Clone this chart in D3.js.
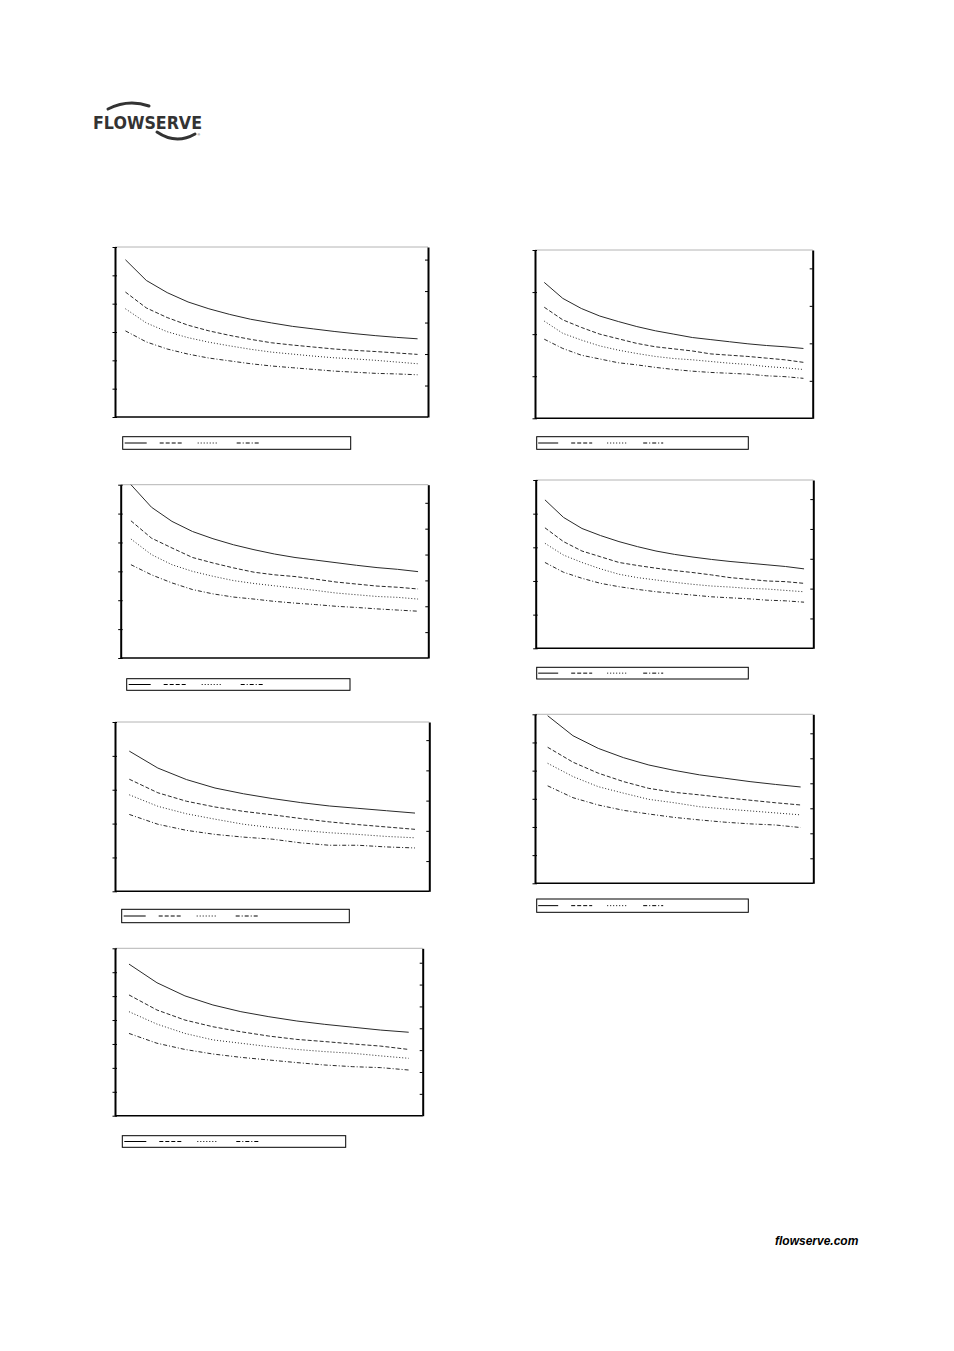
<!DOCTYPE html>
<html><head><meta charset="utf-8">
<script src="https://cdn.jsdelivr.net/npm/d3@7"></script>
<style>body{margin:0;background:#fff}svg{display:block}</style>
</head><body>
<svg id="page" width="954" height="1351"></svg>
<script>
// ---------- data ----------
const points15 = [1,2,3,4,5,6,7,8,9,10,11,12,13,14,15];
const points11 = [1,2,3,4,5,6,7,8,9,10,11];

const seriesL1 = [
  [55.5,48.2,43.9,40.6,38.2,36.2,34.5,33.2,32.0,31.1,30.2,29.4,28.7,28.1,27.6],
  [44.1,38.5,35.1,32.4,30.4,28.8,27.4,26.2,25.4,24.7,24.0,23.5,23.1,22.6,22.1],
  [38.2,33.2,30.1,28.0,26.4,25.1,23.9,22.9,22.2,21.5,20.9,20.5,20.0,19.4,18.8],
  [30.4,26.5,24.0,22.2,20.8,19.8,18.8,18.0,17.4,16.8,16.2,15.8,15.4,15.2,14.9]
];
const seriesR1 = [
  [32.3,28.5,26.1,24.3,23.0,21.8,20.8,20.0,19.2,18.7,18.2,17.7,17.3,17.0,16.6],
  [26.4,23.4,21.6,20.0,18.9,17.8,17.0,16.5,16.0,15.3,15.0,14.7,14.3,13.9,13.3],
  [23.1,20.2,18.6,17.2,16.2,15.4,14.7,14.2,13.9,13.5,13.1,12.8,12.3,12.0,11.6],
  [18.8,16.6,15.0,14.1,13.2,12.7,12.1,11.6,11.2,10.9,10.7,10.5,10.1,9.9,9.5]
];
const seriesL2 = [
  [60.0,52.2,47.3,43.8,41.3,39.2,37.5,36.0,34.8,33.9,33.0,32.1,31.3,30.7,29.9],
  [47.5,41.5,38.1,34.8,32.9,31.2,29.7,28.8,28.2,27.3,26.3,25.6,24.9,24.5,23.9],
  [41.2,35.8,32.3,30.0,28.3,26.8,25.8,25.0,24.2,23.4,22.5,21.9,21.3,21.0,20.4],
  [32.3,28.8,26.0,23.7,22.2,21.1,20.4,19.6,19.0,18.5,17.9,17.5,17.0,16.6,16.2]
];
const seriesR2 = [
  [44.1,38.9,35.6,33.5,31.7,30.2,28.9,27.9,27.1,26.4,25.8,25.3,24.8,24.3,23.6],
  [35.8,31.7,28.9,27.2,25.5,24.6,23.8,23.1,22.5,21.8,21.0,20.5,20.0,19.8,19.3],
  [31.2,27.7,25.5,23.6,22.0,21.0,20.3,19.6,19.0,18.5,18.2,17.8,17.6,17.2,16.8],
  [25.5,22.6,20.8,19.3,18.3,17.5,16.8,16.3,15.8,15.3,15.0,14.7,14.3,14.1,13.7]
];
const seriesL3 = [
  [41.4,36.4,33.0,30.5,28.8,27.4,26.2,25.2,24.5,23.8,23.1],
  [33.1,29.1,26.6,24.9,23.6,22.6,21.5,20.5,19.7,19.0,18.3],
  [28.5,25.1,22.9,21.3,19.8,18.8,18.0,17.3,16.8,16.2,15.8],
  [22.7,19.8,18.0,16.8,16.0,15.4,14.3,13.6,13.6,13.1,12.8]
];
const seriesR3 = [
  [59.5,52.4,47.9,44.6,42.0,40.1,38.5,37.3,36.1,35.1,34.2],
  [48.3,43.0,39.1,36.1,33.7,32.3,31.4,30.4,29.5,28.6,27.8],
  [42.6,37.9,34.3,32.0,29.8,28.6,27.2,26.4,25.7,25.0,24.3],
  [34.6,30.4,27.8,25.9,24.6,23.4,22.5,21.7,21.1,20.7,19.8]
];
const seriesL4 = [
  [63.4,55.6,50.1,46.3,43.5,41.4,39.6,38.2,37.0,35.8,34.9],
  [50.5,44.2,40.0,37.2,35.1,33.3,31.9,31.0,30.0,29.1,27.7],
  [43.5,38.3,34.4,31.7,30.3,28.9,27.7,26.8,26.1,25.0,24.0],
  [34.4,30.3,27.7,25.8,24.4,23.3,22.2,21.2,20.5,20.1,19.1]
];

const leftTicksL1 = [0,10,20,30,40,50,60];
const leftTicksR1 = [0,10,20,30,40];
const leftTicksL2 = [0,10,20,30,40,50,60];
const leftTicksR2 = [0,10,20,30,40,50];
const leftTicksL3 = [0,10,20,30,40,50];
const leftTicksR3 = [0,10,20,30,40,50,60];
const leftTicksL4 = [0,10,20,30,40,50,60,70];

const rightTicksL1 = [1,2,3,4,5];
const rightTicksR1 = [1,2,3,4];
const rightTicksL2 = [1,2,3,4,5,6];
const rightTicksR2 = [1,2,3,4,5];
const rightTicksL3 = [1,2,3,4,5];
const rightTicksR3 = [1,2,3,4,5,6];
const rightTicksL4 = [1,2,3,4,5,6,7];

const rightMax = [5.4, 4.49, 6.7, 5.64, 5.6, 6.76, 7.66];

// ---------- layout ----------
const layouts = [
  {l:115,  r:428,   t:247,   b:417,   lg:[122.7,350.7,436.7,449.3], side:"L"},
  {l:535,  r:812.7, t:250,   b:418.3, lg:[536.7,748.3,436.7,449.3], side:"R"},
  {l:120.7,r:428.3, t:484.7, b:658,   lg:[126.7,350,678.7,690.3],   side:"L"},
  {l:535.7,r:813.3, t:480,   b:648.3, lg:[536.7,748.3,667.3,679],   side:"R"},
  {l:115,  r:429.3, t:722,   b:891.3, lg:[121.7,349.3,909.3,922.7], side:"L"},
  {l:535,  r:813.3, t:714.3, b:883.3, lg:[536.7,748.3,899,912.3],   side:"R"},
  {l:115,  r:422.7, t:948.3, b:1115.7,lg:[122.3,345.7,1135.7,1147.3],side:"L"}
];
const chartSeries = [seriesL1,seriesR1,seriesL2,seriesR2,seriesL3,seriesR3,seriesL4];
const chartPoints = [points15,points15,points15,points15,points11,points11,points11];
const chartLeftTicks = [leftTicksL1,leftTicksR1,leftTicksL2,leftTicksR2,leftTicksL3,leftTicksR3,leftTicksL4];
const chartRightTicks = [rightTicksL1,rightTicksR1,rightTicksL2,rightTicksR2,rightTicksL3,rightTicksR3,rightTicksL4];

const dashes = [null, "4,2", "1,2", "4,2,1,2"];
const legendOffsets = {
  L: [[2,24],[37,59],[75,96],[114,136]],
  R: [[1.5,21.5],[34.5,55.5],[70.5,90.5],[106.5,126.5]]
};

const svg = d3.select("#page");

// ---------- logo ----------
const logo = svg.append("g");
logo.append("path").attr("d","M108,109 Q128,99 149,106")
  .attr("fill","none").attr("stroke","#333").attr("stroke-width",3).attr("stroke-linecap","round");
logo.append("path").attr("d","M157,132 Q176,145 195,134")
  .attr("fill","none").attr("stroke","#333").attr("stroke-width",3).attr("stroke-linecap","round");
logo.append("text").attr("x",93).attr("y",128.5)
  .attr("font-family","DejaVu Sans, sans-serif").attr("font-weight","bold")
  .attr("font-size",17).attr("fill","#333").attr("textLength",109).attr("lengthAdjust","spacingAndGlyphs")
  .text("FLOWSERVE");
logo.append("text").attr("x",197.5).attr("y",136).attr("font-size",3.5)
  .attr("font-family","Liberation Sans, Arial, sans-serif").attr("fill","#333").text("®");

// ---------- footer ----------
svg.append("text").attr("x",775).attr("y",1244.5)
  .attr("font-family","Liberation Sans, Arial, sans-serif").attr("font-weight","bold")
  .attr("font-style","italic").attr("font-size",12).attr("fill","#000")
  .text("flowserve.com");

// ---------- charts ----------
layouts.forEach((L, i) => {
  const g = svg.append("g");
  const pts = chartPoints[i];
  const leftTicks = chartLeftTicks[i];
  const x = d3.scalePoint().domain(pts).range([L.l, L.r]).padding(0.5);
  const y = d3.scaleLinear().domain([0, d3.max(leftTicks)]).range([L.b, L.t]);
  const y2 = d3.scaleLinear().domain([0, rightMax[i]]).range([L.b, L.t]);

  // frame
  g.append("line").attr("x1",L.l).attr("x2",L.r).attr("y1",L.t).attr("y2",L.t)
    .attr("stroke","#b4b4b4").attr("stroke-width",1);
  g.append("line").attr("x1",L.l).attr("x2",L.r).attr("y1",L.b).attr("y2",L.b)
    .attr("stroke","#000").attr("stroke-width",1.5);

  // left axis
  const la = g.append("g").attr("transform",`translate(${L.l},0)`)
    .call(d3.axisLeft(y).tickValues(leftTicks).tickFormat("").tickSizeInner(2.5).tickSizeOuter(0));
  la.select(".domain").attr("stroke","#000").attr("stroke-width",2);
  la.selectAll(".tick line").attr("x1",2).attr("stroke","#000").attr("stroke-width",1);

  // right axis (ticks inward)
  const ra = g.append("g").attr("transform",`translate(${L.r},0)`)
    .call(d3.axisLeft(y2).tickValues(chartRightTicks[i]).tickFormat("").tickSizeInner(3).tickSizeOuter(0));
  ra.select(".domain").attr("stroke","#000").attr("stroke-width",2);
  ra.selectAll(".tick line").attr("stroke","#000").attr("stroke-width",1);

  // lines
  const line = d3.line().x((d,j) => x(pts[j])).y(d => y(d));
  chartSeries[i].forEach((s, k) => {
    g.append("path").datum(s).attr("d", line)
      .attr("fill","none").attr("stroke","#2a2a2a").attr("stroke-width",1)
      .attr("stroke-dasharray", dashes[k]);
  });

  // legend
  const [lx0, lx1, ly0, ly1] = L.lg;
  g.append("rect").attr("x",lx0).attr("y",ly0).attr("width",lx1-lx0).attr("height",ly1-ly0)
    .attr("fill","#fff").attr("stroke","#000").attr("stroke-width",1);
  const cy = (ly0+ly1)/2;
  legendOffsets[L.side].forEach((o,k) => {
    g.append("line").attr("x1",lx0+o[0]).attr("x2",lx0+o[1]).attr("y1",cy).attr("y2",cy)
      .attr("stroke","#000").attr("stroke-width",1).attr("stroke-dasharray", dashes[k]);
  });
});
</script>
</body></html>
